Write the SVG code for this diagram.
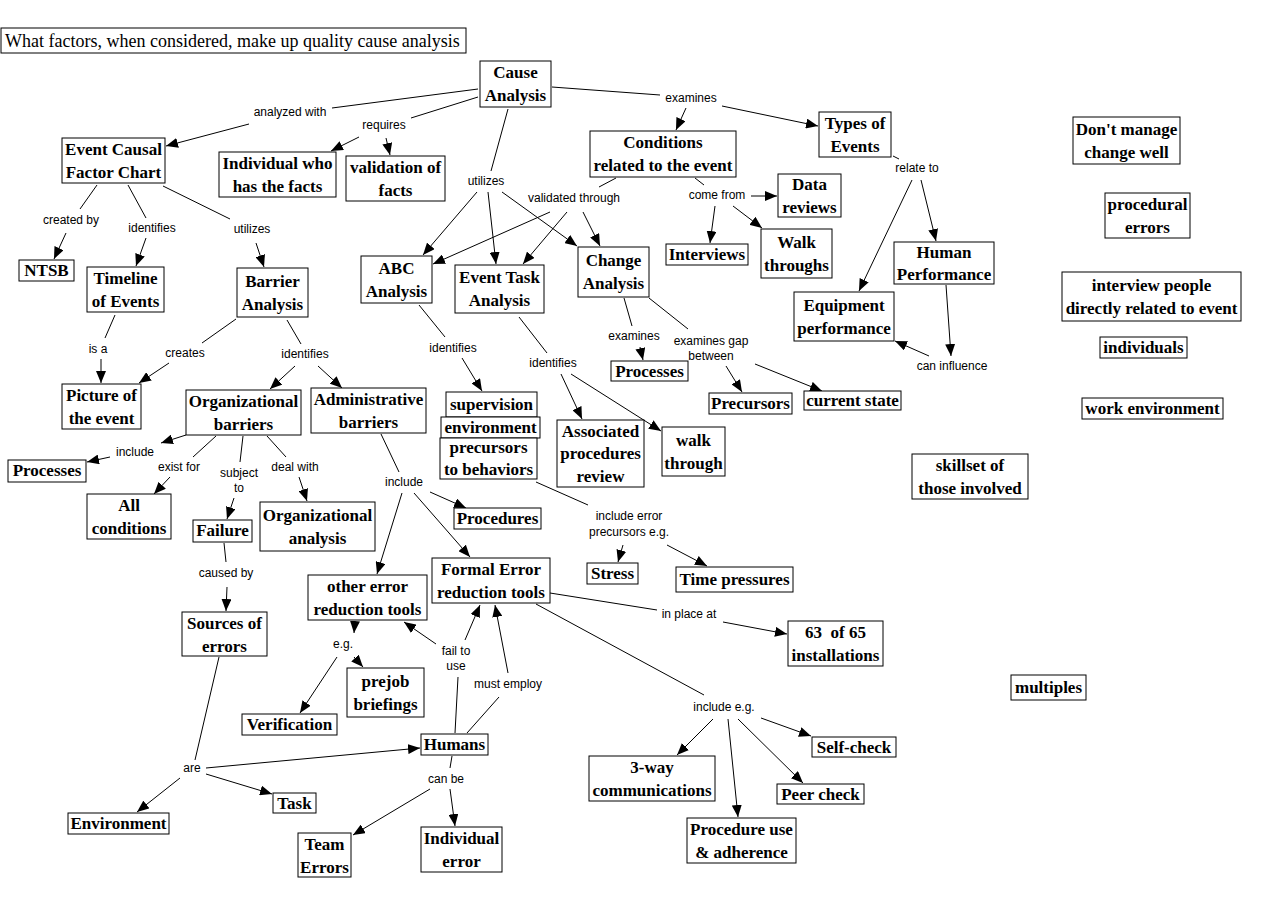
<svg xmlns="http://www.w3.org/2000/svg" width="1281" height="917" viewBox="0 0 1281 917">
<style>
.n rect{fill:#fff;stroke:#000;stroke-width:1}
.n text{font-family:"Liberation Serif","Times New Roman",serif;font-weight:bold;font-size:17px;text-anchor:middle;fill:#000}
.t text{font-family:"Liberation Serif","Times New Roman",serif;font-size:18px;fill:#000}
.t rect{fill:#fff;stroke:#000;stroke-width:1}
#edges path{fill:none;stroke:#000;stroke-width:1}
#edges path.a{marker-end:url(#ah)}
.lb{font-family:"Liberation Sans",Arial,sans-serif;font-size:12px;text-anchor:middle;fill:#000}
</style>
<defs>
<marker id="ah" viewBox="0 0 12 10" refX="12" refY="5" markerWidth="12" markerHeight="10" markerUnits="userSpaceOnUse" orient="auto">
<path d="M0,0 L12,5 L0,10 Z" fill="#000"/>
</marker>
</defs>
<rect x="0" y="0" width="1281" height="917" fill="#fff"/>
<g id="edges">
<path d="M478,89 L332,108"/>
<path class="a" d="M249,124 L166,146"/>
<path d="M478,97 L411,118"/>
<path class="a" d="M359,137 L331,151"/>
<path class="a" d="M386,138 L390,155"/>
<path d="M97,185 L80,209"/>
<path class="a" d="M66,233 L54,259"/>
<path d="M128,185 L146,218"/>
<path class="a" d="M146,238 L136,266"/>
<path d="M163,186 L230,219"/>
<path class="a" d="M256,243 L264,267"/>
<path d="M508,109 L491,171"/>
<path class="a" d="M477,192 L423,255"/>
<path class="a" d="M488,192 L496,264"/>
<path class="a" d="M502,192 L577,246"/>
<path d="M552,87 L660,95"/>
<path class="a" d="M686,108 L676,130"/>
<path class="a" d="M722,106 L818,126"/>
<path d="M616,178 L599,187"/>
<path class="a" d="M550,212 L433,264"/>
<path class="a" d="M567,212 L523,264"/>
<path class="a" d="M583,212 L600,246"/>
<path d="M695,178 L704,185"/>
<path class="a" d="M751,196 L777,196"/>
<path class="a" d="M715,206 L710,243"/>
<path class="a" d="M733,206 L762,228"/>
<path d="M893,156 L899,159"/>
<path class="a" d="M912,180 L859,291"/>
<path class="a" d="M921,180 L936,241"/>
<path class="a" d="M946,285 L951,356"/>
<path class="a" d="M929,356 L895,341"/>
<path d="M624,298 L632,326"/>
<path class="a" d="M640,347 L643,360"/>
<path d="M649,298 L688,329"/>
<path class="a" d="M726,366 L742,392"/>
<path class="a" d="M755,364 L822,391"/>
<path d="M419,305 L445,337"/>
<path class="a" d="M462,358 L482,391"/>
<path d="M519,317 L547,353"/>
<path class="a" d="M561,374 L582,419"/>
<path class="a" d="M571,374 L661,431"/>
<path d="M536,482 L588,505"/>
<path class="a" d="M623,545 L618,562"/>
<path class="a" d="M667,545 L707,566"/>
<path d="M115,315 L105,338"/>
<path class="a" d="M101,359 L101,383"/>
<path d="M236,319 L202,343"/>
<path class="a" d="M169,363 L139,383"/>
<path d="M287,320 L301,344"/>
<path class="a" d="M295,366 L270,389"/>
<path class="a" d="M318,366 L342,388"/>
<path class="a" d="M186,435 L161,443"/>
<path class="a" d="M110,457 L87,462"/>
<path d="M216,436 L193,457"/>
<path class="a" d="M170,477 L154,494"/>
<path d="M243,436 L240,462"/>
<path class="a" d="M234,498 L227,519"/>
<path d="M267,436 L286,457"/>
<path class="a" d="M299,477 L307,501"/>
<path d="M224,543 L226,562"/>
<path class="a" d="M227,587 L226,611"/>
<path d="M381,434 L399,472"/>
<path class="a" d="M402,493 L377,574"/>
<path class="a" d="M414,493 L470,557"/>
<path class="a" d="M430,492 L466,508"/>
<path d="M550,593 L657,610"/>
<path class="a" d="M723,622 L787,634"/>
<path d="M536,604 L704,695"/>
<path class="a" d="M713,719 L677,755"/>
<path class="a" d="M728,719 L738,817"/>
<path class="a" d="M738,719 L803,783"/>
<path class="a" d="M761,718 L811,736"/>
<path class="a" d="M355,621 L354,633"/>
<path class="a" d="M337,657 L300,713"/>
<path class="a" d="M354,657 L363,667"/>
<path d="M455,733 L458,677"/>
<path class="a" d="M436,644 L404,622"/>
<path class="a" d="M465,640 L480,605"/>
<path d="M467,733 L499,697"/>
<path class="a" d="M508,673 L495,605"/>
<path d="M219,657 L195,760"/>
<path class="a" d="M206,768 L420,748"/>
<path class="a" d="M206,774 L272,794"/>
<path class="a" d="M180,778 L137,812"/>
<path d="M452,756 L450,768"/>
<path class="a" d="M430,789 L353,835"/>
<path class="a" d="M450,789 L455,826"/>
<g id="edge-labels">
<text class="lb" x="290" y="116">analyzed with</text>
<text class="lb" x="384" y="129">requires</text>
<text class="lb" x="71" y="224">created by</text>
<text class="lb" x="152" y="232">identifies</text>
<text class="lb" x="252" y="233">utilizes</text>
<text class="lb" x="486" y="185">utilizes</text>
<text class="lb" x="574" y="202">validated through</text>
<text class="lb" x="691" y="102">examines</text>
<text class="lb" x="717" y="199">come from</text>
<text class="lb" x="917" y="172">relate to</text>
<text class="lb" x="952" y="370">can influence</text>
<text class="lb" x="634" y="340">examines</text>
<text class="lb" x="711" y="345">examines gap</text>
<text class="lb" x="711" y="360">between</text>
<text class="lb" x="453" y="352">identifies</text>
<text class="lb" x="553" y="367">identifies</text>
<text class="lb" x="629" y="520">include error</text>
<text class="lb" x="629" y="536">precursors e.g.</text>
<text class="lb" x="98" y="353">is a</text>
<text class="lb" x="185" y="357">creates</text>
<text class="lb" x="305" y="358">identifies</text>
<text class="lb" x="135" y="456">include</text>
<text class="lb" x="179" y="471">exist for</text>
<text class="lb" x="239" y="477">subject</text>
<text class="lb" x="239" y="492">to</text>
<text class="lb" x="295" y="471">deal with</text>
<text class="lb" x="226" y="577">caused by</text>
<text class="lb" x="404" y="486">include</text>
<text class="lb" x="689" y="618">in place at</text>
<text class="lb" x="724" y="711">include e.g.</text>
<text class="lb" x="343" y="648">e.g.</text>
<text class="lb" x="456" y="655">fail to</text>
<text class="lb" x="456" y="670">use</text>
<text class="lb" x="508" y="688">must employ</text>
<text class="lb" x="192" y="772">are</text>
<text class="lb" x="446" y="783">can be</text>
</g>
</g>
<g id="title" class="t"><rect x="1" y="28" width="465" height="25"/><text x="5" y="47">What factors, when considered, make up quality cause analysis</text></g>
<g id="cause" class="n"><rect x="480" y="61" width="71" height="46"/><text x="515.5" y="78">Cause</text><text x="515.5" y="101">Analysis</text></g>
<g id="ecfc" class="n"><rect x="62" y="138" width="103" height="45"/><text x="113.5" y="155">Event Causal</text><text x="113.5" y="178">Factor Chart</text></g>
<g id="indiv" class="n"><rect x="219" y="152" width="117" height="45"/><text x="277.5" y="169">Individual who</text><text x="277.5" y="192">has the facts</text></g>
<g id="valid" class="n"><rect x="346" y="156" width="99" height="45"/><text x="395.5" y="173">validation of</text><text x="395.5" y="196">facts</text></g>
<g id="ntsb" class="n"><rect x="19" y="260" width="55" height="21"/><text x="46.5" y="276">NTSB</text></g>
<g id="timeline" class="n"><rect x="87" y="267" width="77" height="45"/><text x="125.5" y="284">Timeline</text><text x="125.5" y="307">of Events</text></g>
<g id="barrier" class="n"><rect x="237" y="268" width="71" height="49"/><text x="272.5" y="287">Barrier</text><text x="272.5" y="310">Analysis</text></g>
<g id="abc" class="n"><rect x="361" y="256" width="71" height="47"/><text x="396.5" y="274">ABC</text><text x="396.5" y="297">Analysis</text></g>
<g id="eta" class="n"><rect x="455" y="265" width="89" height="48"/><text x="499.5" y="283">Event Task</text><text x="499.5" y="306">Analysis</text></g>
<g id="cond" class="n"><rect x="590" y="131" width="146" height="46"/><text x="663" y="148">Conditions</text><text x="663" y="171">related to the event</text></g>
<g id="types" class="n"><rect x="819" y="112" width="72" height="45"/><text x="855" y="129">Types of</text><text x="855" y="152">Events</text></g>
<g id="data" class="n"><rect x="778" y="174" width="63" height="43"/><text x="809.5" y="190">Data</text><text x="809.5" y="213">reviews</text></g>
<g id="interviews" class="n"><rect x="666" y="244" width="82" height="21"/><text x="707" y="260">Interviews</text></g>
<g id="walkthroughs" class="n"><rect x="761" y="229" width="71" height="49"/><text x="796.5" y="248">Walk</text><text x="796.5" y="271">throughs</text></g>
<g id="human" class="n"><rect x="894" y="242" width="100" height="42"/><text x="944" y="258">Human</text><text x="944" y="280">Performance</text></g>
<g id="equip" class="n"><rect x="794" y="292" width="100" height="49"/><text x="844" y="311">Equipment</text><text x="844" y="334">performance</text></g>
<g id="change" class="n"><rect x="578" y="247" width="71" height="50"/><text x="613.5" y="266">Change</text><text x="613.5" y="289">Analysis</text></g>
<g id="dont" class="n"><rect x="1073" y="117" width="107" height="47"/><text x="1126.5" y="135">Don't manage</text><text x="1126.5" y="158">change well</text></g>
<g id="procerr" class="n"><rect x="1105" y="193" width="85" height="45"/><text x="1147.5" y="210">procedural</text><text x="1147.5" y="233">errors</text></g>
<g id="interviewpeople" class="n"><rect x="1062" y="272" width="179" height="49"/><text x="1151.5" y="291">interview people</text><text x="1151.5" y="314">directly related to event</text></g>
<g id="individuals" class="n"><rect x="1100" y="337" width="87" height="21"/><text x="1143.5" y="353">individuals</text></g>
<g id="workenv" class="n"><rect x="1082" y="398" width="141" height="21"/><text x="1152.5" y="414">work environment</text></g>
<g id="skillset" class="n"><rect x="912" y="454" width="116" height="45"/><text x="970" y="471">skillset of</text><text x="970" y="494">those involved</text></g>
<g id="multiples" class="n"><rect x="1011" y="675" width="75" height="25"/><text x="1048.5" y="693">multiples</text></g>
<g id="picture" class="n"><rect x="62" y="384" width="79" height="45"/><text x="101.5" y="401">Picture of</text><text x="101.5" y="424">the event</text></g>
<g id="orgbar" class="n"><rect x="186" y="390" width="115" height="45"/><text x="243.5" y="407">Organizational</text><text x="243.5" y="430">barriers</text></g>
<g id="adminbar" class="n"><rect x="311" y="388" width="115" height="45"/><text x="368.5" y="405">Administrative</text><text x="368.5" y="428">barriers</text></g>
<g id="processes1" class="n"><rect x="8" y="460" width="78" height="22"/><text x="47" y="476">Processes</text></g>
<g id="allcond" class="n"><rect x="87" y="494" width="84" height="45"/><text x="129" y="511">All</text><text x="129" y="534">conditions</text></g>
<g id="failure" class="n"><rect x="193" y="520" width="59" height="22"/><text x="222.5" y="536">Failure</text></g>
<g id="organal" class="n"><rect x="260" y="502" width="115" height="49"/><text x="317.5" y="521">Organizational</text><text x="317.5" y="544">analysis</text></g>
<g id="supervision" class="n"><rect x="446" y="392" width="91" height="25"/><text x="491.5" y="410">supervision</text></g>
<g id="environment" class="n"><rect x="441" y="417" width="99" height="21"/><text x="490.5" y="433">environment</text></g>
<g id="precursors" class="n"><rect x="440" y="438" width="97" height="41"/><text x="488.5" y="453">precursors</text><text x="488.5" y="475">to behaviors</text></g>
<g id="assoc" class="n"><rect x="557" y="420" width="87" height="67"/><text x="600.5" y="437">Associated</text><text x="600.5" y="459">procedures</text><text x="600.5" y="482">review</text></g>
<g id="walkthrough" class="n"><rect x="662" y="427" width="63" height="49"/><text x="693.5" y="446">walk</text><text x="693.5" y="469">through</text></g>
<g id="processes2" class="n"><rect x="611" y="361" width="77" height="20"/><text x="649.5" y="377">Processes</text></g>
<g id="precursorsN" class="n"><rect x="709" y="393" width="83" height="21"/><text x="750.5" y="409">Precursors</text></g>
<g id="current" class="n"><rect x="804" y="391" width="97" height="19"/><text x="852.5" y="406">current state</text></g>
<g id="procedures" class="n"><rect x="454" y="508" width="87" height="21"/><text x="497.5" y="524">Procedures</text></g>
<g id="stress" class="n"><rect x="587" y="563" width="51" height="21"/><text x="612.5" y="579">Stress</text></g>
<g id="timepress" class="n"><rect x="676" y="567" width="117" height="25"/><text x="734.5" y="585">Time pressures</text></g>
<g id="other" class="n"><rect x="308" y="575" width="119" height="45"/><text x="367.5" y="592">other error</text><text x="367.5" y="615">reduction tools</text></g>
<g id="formal" class="n"><rect x="432" y="558" width="118" height="45"/><text x="491" y="575">Formal Error</text><text x="491" y="598">reduction tools</text></g>
<g id="sources" class="n"><rect x="182" y="612" width="85" height="44"/><text x="224.5" y="629">Sources of</text><text x="224.5" y="652">errors</text></g>
<g id="sixtythree" class="n"><rect x="788" y="621" width="95" height="45"/><text x="835.5" y="638" xml:space="preserve">63  of 65</text><text x="835.5" y="661">installations</text></g>
<g id="prejob" class="n"><rect x="347" y="668" width="77" height="49"/><text x="385.5" y="687">prejob</text><text x="385.5" y="710">briefings</text></g>
<g id="verification" class="n"><rect x="242" y="714" width="95" height="21"/><text x="289.5" y="730">Verification</text></g>
<g id="humans" class="n"><rect x="421" y="734" width="67" height="21"/><text x="454.5" y="750">Humans</text></g>
<g id="task" class="n"><rect x="273" y="793" width="43" height="20"/><text x="294.5" y="809">Task</text></g>
<g id="environment2" class="n"><rect x="68" y="813" width="101" height="21"/><text x="118.5" y="829">Environment</text></g>
<g id="team" class="n"><rect x="298" y="833" width="53" height="44"/><text x="324.5" y="850">Team</text><text x="324.5" y="873">Errors</text></g>
<g id="individual" class="n"><rect x="421" y="827" width="81" height="45"/><text x="461.5" y="844">Individual</text><text x="461.5" y="867">error</text></g>
<g id="threeway" class="n"><rect x="589" y="756" width="126" height="45"/><text x="652" y="773">3-way</text><text x="652" y="796">communications</text></g>
<g id="procuse" class="n"><rect x="687" y="818" width="109" height="45"/><text x="741.5" y="835">Procedure use</text><text x="741.5" y="858">&amp; adherence</text></g>
<g id="peer" class="n"><rect x="777" y="784" width="87" height="20"/><text x="820.5" y="800">Peer check</text></g>
<g id="self" class="n"><rect x="812" y="737" width="84" height="20"/><text x="854" y="753">Self-check</text></g>
</svg>
